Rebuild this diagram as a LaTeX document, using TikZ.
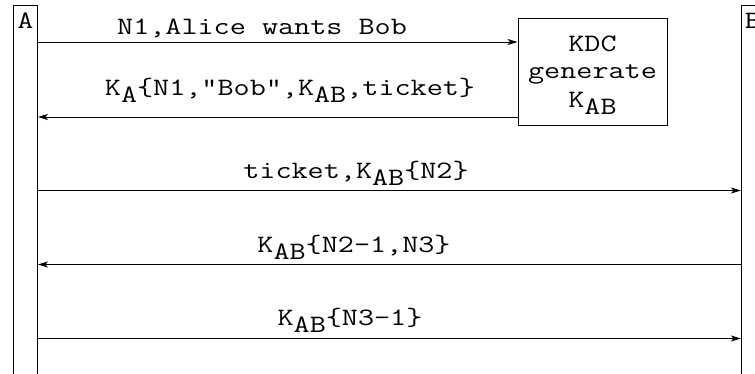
\documentclass[tikz,border=0pt]{standalone}
\usepackage{fontspec}
\setmonofont{Latin Modern Mono}[FakeStretch=1.25]
\usetikzlibrary{arrows.meta}
% subscript set in the message font, simply lowered
\newcommand\lowsub[1]{\raisebox{-7pt}{#1}}

\begin{document}
\begin{tikzpicture}[x=1pt,y=-1pt,
  font=\ttfamily\fontsize{25}{28}\selectfont,
  line width=0.9pt,
  lifeline/.style={draw, rectangle, anchor=north west, minimum width=24pt,
    minimum height=420pt, inner sep=0pt},
  procbox/.style={draw, rectangle, inner sep=0pt},
  msg/.style={-{Stealth[length=10pt,width=6pt,inset=2.5pt]}},
  lbl/.style={anchor=base, inner sep=0pt}]
  \useasboundingbox (0,0) rectangle (755,373);
  \clip (0,0) rectangle (755,373);

  % participants
  \node[lifeline] (A) at (13,5) {};
  \node[lifeline] (B) at (741,5) {};
  \node[lbl] at (25.5,28) {A};
  \node[lbl] at (753,28) {B};

  % key distribution centre
  \node[procbox, minimum width=149pt, minimum height=107pt] (kdc) at (592.5,71.5) {};
  \node[lbl] at (592.5,51) {KDC};
  \node[lbl] at (592.5,78) {generate};
  \node[lbl] at (592.5,107) {K\lowsub{AB}};

  % messages
  \draw[msg] (A.east |- 0,42) -- (kdc.west |- 0,42);
  \node[lbl] at (262,34) {N1,Alice wants Bob};

  \draw[msg] (kdc.west |- 0,117) -- (A.east |- 0,117);
  \node[lbl] at (290,95) {K\lowsub{A}\{N1,"Bob",K\lowsub{AB},ticket\}};

  \draw[msg] (A.east |- 0,190.5) -- (B.west |- 0,190.5);
  \node[lbl] at (356,178) {ticket,K\lowsub{AB}\{N2\}};

  \draw[msg] (B.west |- 0,264.5) -- (A.east |- 0,264.5);
  \node[lbl] at (354,252) {K\lowsub{AB}\{N2-1,N3\}};

  \draw[msg] (A.east |- 0,338.5) -- (B.west |- 0,338.5);
  \node[lbl] at (350,325) {K\lowsub{AB}\{N3-1\}};
\end{tikzpicture}
\end{document}
